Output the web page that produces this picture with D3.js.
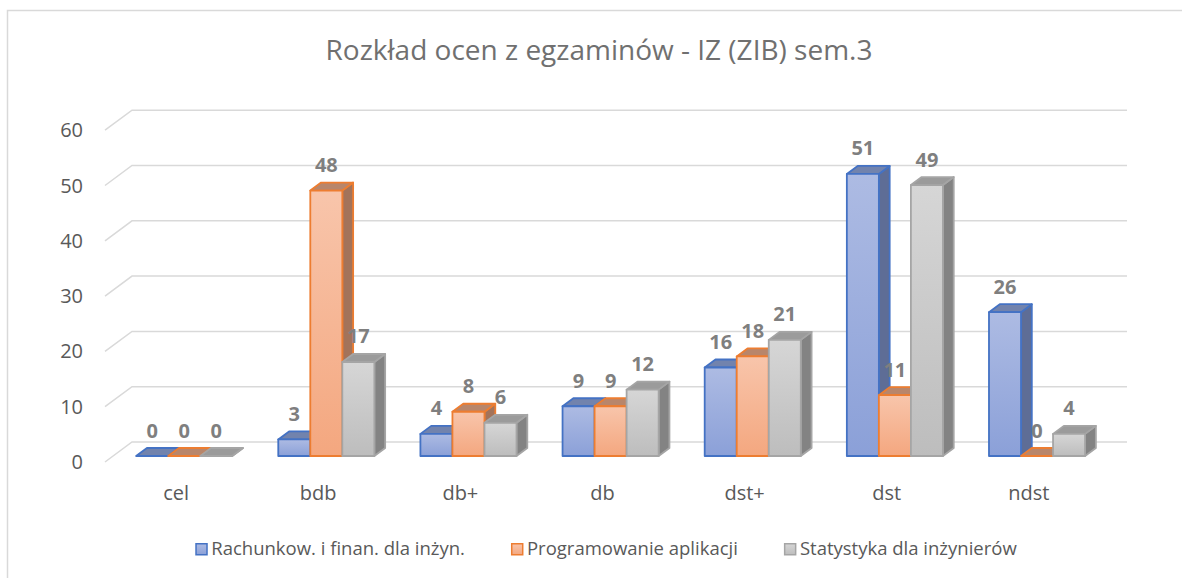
<!DOCTYPE html>
<html>
<head>
<meta charset="utf-8">
<script src="https://cdn.jsdelivr.net/npm/d3@7"></script>
<style>
  body { margin: 0; background: #fff; }
  text { font-family: "Open Sans", sans-serif; }
</style>
</head>
<body>
<svg id="chart" width="1182" height="578"></svg>
<script>
// grades and the three exams
const categories = ['cel', 'bdb', 'db+', 'db', 'dst+', 'dst', 'ndst'];
const seriesNames = ['Rachunkow. i finan. dla inżyn.', 'Programowanie aplikacji', 'Statystyka dla inżynierów'];
const rachunkowosc = [0, 3, 4, 9, 16, 51, 26];
const programowanie = [0, 48, 8, 9, 18, 11, 0];
const statystyka = [0, 17, 6, 12, 21, 49, 4];
const yTicks = [0, 10, 20, 30, 40, 50, 60];
const title = 'Rozkład ocen z egzaminów - IZ (ZIB) sem.3';

const allSeries = [rachunkowosc, programowanie, statystyka];

// colours per series: front gradient top/bottom, side, top, outline
const palette = [
    { top: '#adbbe3', bottom: '#8ba0d8', side: '#5e6d96', cap: '#7283ad', line: '#4472c4' },
    { top: '#f8c5ab', bottom: '#f4a77f', side: '#a3735a', cap: '#b8866b', line: '#ed7d31' },
    { top: '#d6d6d6', bottom: '#bdbdbd', side: '#838383', cap: '#9b9b9b', line: '#a5a5a5' }
];

const svg = d3.select('#chart');

// frame of the chart area
svg.append('rect')
    .attr('x', 7.5).attr('y', 10.5)
    .attr('width', 1220).attr('height', 620)
    .attr('fill', '#fff')
    .attr('stroke', '#d9d9d9')
    .attr('stroke-width', 1.5);

svg.append('text')
    .attr('x', 599).attr('y', 60)
    .attr('text-anchor', 'middle')
    .attr('font-size', '28px')
    .style('fill', '#707070')
    .text(title);

// 3d floor: front edge and the full depth vector
const front = { left: 105, right: 1100 };
const depth = { dx: 27, dy: -20 };

const x = d3.scaleBand().domain(categories).range([front.left, front.right]);
const y = d3.scaleLinear().domain([0, 60]).range([462, 130.2]);
const groupW = x.bandwidth() * 0.676;
const xSub = d3.scaleBand().domain(d3.range(allSeries.length)).range([0, groupW]);

// gradients
const defs = svg.append('defs');
palette.forEach(function (p, i) {
    let g = defs.append('linearGradient')
        .attr('id', 'grad' + i)
        .attr('x1', 0).attr('y1', 0).attr('x2', 0).attr('y2', 1);
    g.append('stop').attr('offset', '0%').attr('stop-color', p.top);
    g.append('stop').attr('offset', '100%').attr('stop-color', p.bottom);
});

// gridlines: side wall diagonal + back wall line
const grid = svg.append('g');
yTicks.forEach(function (t) {
    let fy = y(t);
    grid.append('path')
        .attr('d', 'M' + front.left + ',' + fy +
            'L' + (front.left + depth.dx) + ',' + (fy + depth.dy) +
            'L' + (front.right + depth.dx) + ',' + (fy + depth.dy))
        .attr('fill', 'none')
        .attr('stroke', '#d9d9d9')
        .attr('stroke-width', 1.5);
    grid.append('text')
        .attr('x', 83).attr('y', fy + 7)
        .attr('text-anchor', 'end')
        .attr('font-size', '20px')
        .style('fill', '#595959')
        .text(t);
});

// category labels
svg.append('g').selectAll('text')
    .data(categories)
    .join('text')
    .attr('x', d => x(d) + x.bandwidth() / 2)
    .attr('y', 500)
    .attr('text-anchor', 'middle')
    .attr('font-size', '20px')
    .style('fill', '#595959')
    .text(d => d);

// bars sit between 30% and 70% of the floor depth
const d0 = 0.3, d1 = 0.7;
const bdx = depth.dx * (d1 - d0), bdy = depth.dy * (d1 - d0);
const bars = svg.append('g');
const labels = [];

categories.forEach(function (cat, ci) {
    allSeries.forEach(function (values, si) {
        let v = values[ci];
        let p = palette[si];
        let w = xSub.bandwidth();
        let x0 = x(cat) + (x.bandwidth() - groupW) / 2 + xSub(si) + depth.dx * d0;
        let yb = y(0) + depth.dy * d0;
        let yt = y(v) + depth.dy * d0;
        let g = bars.append('g')
            .attr('stroke', p.line)
            .attr('stroke-width', 1.8)
            .attr('stroke-linejoin', 'round');
        // side face
        g.append('path')
            .attr('d', 'M' + (x0 + w) + ',' + yt + 'L' + (x0 + w + bdx) + ',' + (yt + bdy) +
                'L' + (x0 + w + bdx) + ',' + (yb + bdy) + 'L' + (x0 + w) + ',' + yb + 'Z')
            .attr('fill', p.side);
        // top face
        g.append('path')
            .attr('d', 'M' + x0 + ',' + yt + 'L' + (x0 + bdx) + ',' + (yt + bdy) +
                'L' + (x0 + w + bdx) + ',' + (yt + bdy) + 'L' + (x0 + w) + ',' + yt + 'Z')
            .attr('fill', p.cap);
        // front face
        if (v > 0) {
            g.append('rect')
                .attr('x', x0).attr('y', yt)
                .attr('width', w).attr('height', yb - yt)
                .attr('fill', 'url(#grad' + si + ')');
        }
        labels.push({ x: x0 + w / 2, y: yt - 18.5, v: v });
    });
});

svg.append('g').selectAll('text')
    .data(labels)
    .join('text')
    .attr('x', d => d.x)
    .attr('y', d => d.y)
    .attr('text-anchor', 'middle')
    .attr('font-size', '20px')
    .attr('font-weight', 'bold')
    .style('fill', '#7f7f7f')
    .text(d => d.v);

// legend
const legend = svg.append('g');
let lx = 0;
seriesNames.forEach(function (name, i) {
    let p = palette[i];
    let item = legend.append('g').attr('transform', 'translate(' + lx + ',0)');
    item.append('rect')
        .attr('x', 0.75).attr('y', -11.25)
        .attr('width', 11).attr('height', 11)
        .attr('fill', 'url(#grad' + i + ')')
        .attr('stroke', p.line)
        .attr('stroke-width', 1.5);
    let t = item.append('text')
        .attr('x', 16).attr('y', 0)
        .attr('font-size', '18.5px')
        .style('fill', '#595959')
        .text(name);
    lx += 16 + t.node().getComputedTextLength() + 46;
});
lx -= 46;
legend.attr('transform', 'translate(' + (606 - lx / 2) + ',555)');
</script>
</body>
</html>
